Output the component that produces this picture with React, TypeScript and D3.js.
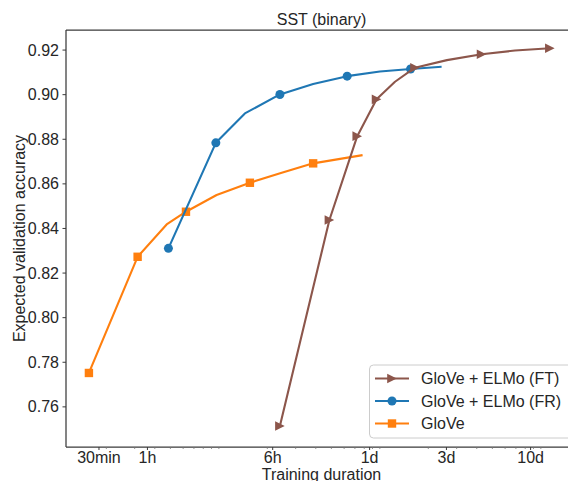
import React from 'react';
import * as d3 from 'd3';

// training duration in hours, expected validation accuracy
const ftHours = [6.65, 13.5, 20.1, 26.5, 34.5, 45.9, 72.5, 119, 192, 316];
const ftAcc = [0.7514, 0.8438, 0.8814, 0.8979, 0.9058, 0.9121, 0.9155, 0.9181, 0.9198, 0.9208];
const ftMarks = [0, 1, 2, 3, 5, 7, 9];

const frHours = [1.35, 2.66, 4.03, 6.65, 10.7, 17.4, 27.8, 43.1, 67.2];
const frAcc = [0.8311, 0.8784, 0.8916, 0.9001, 0.9048, 0.9083, 0.9104, 0.9115, 0.9125];
const frMarks = [0, 1, 3, 5, 7];

const gloveHours = [0.433, 0.869, 1.316, 1.735, 2.69, 4.33, 6.75, 10.7, 21.7];
const gloveAcc = [0.7752, 0.8273, 0.8418, 0.8475, 0.855, 0.8605, 0.8649, 0.8692, 0.8729];
const gloveMarks = [0, 1, 3, 5, 7];

const xTickHours = [0.5, 1, 6, 24, 72, 240];
const xTickLabels = ['30min', '1h', '6h', '1d', '3d', '10d'];
const yTicks = [0.76, 0.78, 0.8, 0.82, 0.84, 0.86, 0.88, 0.9, 0.92];

const legendLabels = ['GloVe + ELMo (FT)', 'GloVe + ELMo (FR)', 'GloVe'];

const BROWN = '#8c564b';
const BLUE = '#1f77b4';
const ORANGE = '#ff7f0e';
const INK = '#262626';
const FONT = '"Liberation Sans", Arial, sans-serif';

const left = 66, right = 577, top = 30, bottom = 447;

const x = d3.scaleLog().domain([0.312, 466]).range([left, right]);
const y = d3.scaleLinear().domain([0.742, 0.929]).range([bottom, top]);

// minor ticks at k * 10^n seconds
const minorHours: number[] = [];
for (let n = 3; n <= 6; n++) {
  for (let k = 1; k <= 9; k++) {
    const h = (k * Math.pow(10, n)) / 3600;
    if (x(h) > left && x(h) < right) minorHours.push(h);
  }
}

const line = d3.line<[number, number]>().x(d => x(d[0])).y(d => y(d[1]));

const zipPts = (hs: number[], acc: number[]) => hs.map((h, i) => [h, acc[i]] as [number, number]);

function Marker({ kind, cx, cy, color }: { kind: string; cx: number; cy: number; color: string }) {
  if (kind === 'tri') {
    const r = 4.8;
    return <path d={`M${cx + r},${cy}L${cx - r},${cy - r}L${cx - r},${cy + r}Z`} fill={color} />;
  }
  if (kind === 'circle') return <circle cx={cx} cy={cy} r={4.5} fill={color} />;
  return <rect x={cx - 4.2} y={cy - 4.2} width={8.4} height={8.4} fill={color} />;
}

const series = [
  { pts: zipPts(ftHours, ftAcc), marks: ftMarks, color: BROWN, kind: 'tri' },
  { pts: zipPts(frHours, frAcc), marks: frMarks, color: BLUE, kind: 'circle' },
  { pts: zipPts(gloveHours, gloveAcc), marks: gloveMarks, color: ORANGE, kind: 'square' },
];

export default function App() {
  const edge = '#3a3a3a';
  return (
    <svg width={568} height={481} style={{ position: 'absolute', left: 0, top: 0 }} fontFamily={FONT}>
      <rect width={568} height={481} fill="#fff" />
      <text x={(left + right) / 2} y={25} textAnchor="middle" fontSize={16} fill={INK}>SST (binary)</text>

      {/* series, drawn in reverse so FT is on top */}
      {series.slice().reverse().map((s, si) => (
        <g key={si}>
          <path d={line(s.pts) || ''} fill="none" stroke={s.color} strokeWidth={2.1} strokeLinejoin="round" />
          {s.marks.map(i => (
            <Marker key={i} kind={s.kind} cx={x(s.pts[i][0])} cy={y(s.pts[i][1])} color={s.color} />
          ))}
        </g>
      ))}

      {/* spines */}
      <line x1={left} x2={right} y1={top} y2={top} stroke={edge} strokeWidth={1.25} />
      <line x1={left} x2={left} y1={top} y2={bottom} stroke={edge} strokeWidth={1.25} />
      <line x1={left} x2={right} y1={bottom} y2={bottom} stroke={edge} strokeWidth={1.25} />

      {/* y axis */}
      {yTicks.map(t => (
        <g key={t}>
          <line x1={left - 3.5} x2={left} y1={y(t)} y2={y(t)} stroke={edge} strokeWidth={1} />
          <text x={left - 7} y={y(t)} dy="0.35em" textAnchor="end" fontSize={16} fill={INK}>
            {d3.format('.2f')(t)}
          </text>
        </g>
      ))}
      <text transform={`translate(25,${(top + bottom) / 2}) rotate(-90)`} textAnchor="middle" fontSize={16} fill={INK}>
        Expected validation accuracy
      </text>

      {/* x axis */}
      {minorHours.map(h => (
        <line key={h} x1={x(h)} x2={x(h)} y1={bottom} y2={bottom + 2} stroke="#777" strokeWidth={0.8} />
      ))}
      {xTickHours.map((h, i) => (
        <g key={h}>
          <line x1={x(h)} x2={x(h)} y1={bottom} y2={bottom + 3} stroke={edge} strokeWidth={1} />
          <text x={x(h)} y={463} textAnchor="middle" fontSize={16} fill={INK}>{xTickLabels[i]}</text>
        </g>
      ))}
      <text x={(left + right) / 2} y={480} textAnchor="middle" fontSize={16} fill={INK}>Training duration</text>

      {/* legend */}
      <rect x={369.5} y={365} width={230} height={73} rx={4} fill="#fff" fillOpacity={0.8} stroke="#cccccc" strokeWidth={1} />
      {series.map((s, i) => {
        const ly = 378.5 + i * 22.5;
        return (
          <g key={i}>
            <line x1={375} x2={409} y1={ly} y2={ly} stroke={s.color} strokeWidth={2.1} />
            <Marker kind={s.kind} cx={392} cy={ly} color={s.color} />
            <text x={421} y={ly} dy="0.35em" fontSize={16} fill={INK}>{legendLabels[i]}</text>
          </g>
        );
      })}
    </svg>
  );
}
